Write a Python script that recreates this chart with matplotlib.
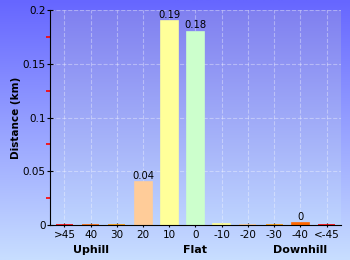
import matplotlib.pyplot as plt
import numpy as np

# gradient categories and distances (km)
categories = [">45", "40", "30", "20", "10", "0", "-10", "-20", "-30", "-40", "<-45"]
distances = [0, 0, 0, 0.04, 0.19, 0.18, 0.0005, 0, 0, 0.002, 0]
bar_labels = ["", "", "", "0.04", "0.19", "0.18", "", "", "", "0", ""]
bar_colors = ["#FF0000", "#FF6600", "#FF9900", "#FFCC99", "#FFFF99", "#CCFFCC",
              "#FFFF99", "#FFCC99", "#FF9900", "#FF6600", "#FF0000"]
groups = ["Uphill", "Flat", "Downhill"]
group_pos = [1, 5, 9]

fig = plt.figure(figsize=(3.5, 2.6), dpi=100)

# figure background gradient
bg = fig.add_axes([0, 0, 1, 1], zorder=-10)
grad = np.linspace(0, 1, 256).reshape(-1, 1)
top = np.array([102, 102, 255]) / 255
bot = np.array([200, 222, 255]) / 255
img = top + (bot - top) * grad[..., None]
bg.imshow(img, aspect="auto", extent=[0, 1, 0, 1])
bg.axis("off")

ax = fig.add_axes([50 / 350, 35 / 260, 291 / 350, 215 / 260])
ax.set_xlim(-0.55, 10.55)
ax.set_ylim(0, 0.2)

# plot area gradient
ptop = np.array([128, 128, 240]) / 255
pbot = np.array([190, 212, 255]) / 255
pimg = ptop + (pbot - ptop) * grad[..., None]
ax.imshow(pimg, aspect="auto", extent=[-0.55, 10.55, 0, 0.2], zorder=0)

x = np.arange(len(categories))
ax.bar(x, distances, width=0.65, color=bar_colors, edgecolor=bar_colors,
       linewidth=1.2, zorder=3)
for xi, d, lab in zip(x, distances, bar_labels):
    if lab:
        ax.text(xi, d + 0.001, lab, ha="center", va="bottom", fontsize=7.2, zorder=4)

ax.set_xticks(x)
ax.set_xticklabels(categories, fontsize=7.5)
ax.set_yticks([0, 0.05, 0.1, 0.15, 0.2])
ax.set_yticklabels(["0", "0.05", "0.1", "0.15", "0.2"], fontsize=7.5)
ax.set_yticks([0.025, 0.075, 0.125, 0.175], minor=True)
ax.tick_params(axis="y", which="major", length=4, direction="inout", pad=1)
ax.tick_params(axis="y", which="minor", length=3, width=1.2, color="red", direction="out")
ax.tick_params(axis="x", length=3, direction="inout", pad=2)

ax.grid(True, color="white", alpha=0.35, linestyle="--", linewidth=0.8, zorder=1)
ax.set_axisbelow(False)
for gl in ax.get_xgridlines() + ax.get_ygridlines():
    gl.set_zorder(1)

for s in ["top", "right"]:
    ax.spines[s].set_visible(False)
ax.spines["left"].set_zorder(5)
ax.spines["bottom"].set_zorder(5)

ax.set_ylabel("Distance (km)", fontsize=7.5, fontweight="bold", labelpad=1)

for g, p in zip(groups, group_pos):
    ax.text(p, -0.023, g, ha="center", va="center", fontsize=8, fontweight="bold",
            transform=ax.transData, clip_on=False)

fig.savefig("out.png", dpi=100)
